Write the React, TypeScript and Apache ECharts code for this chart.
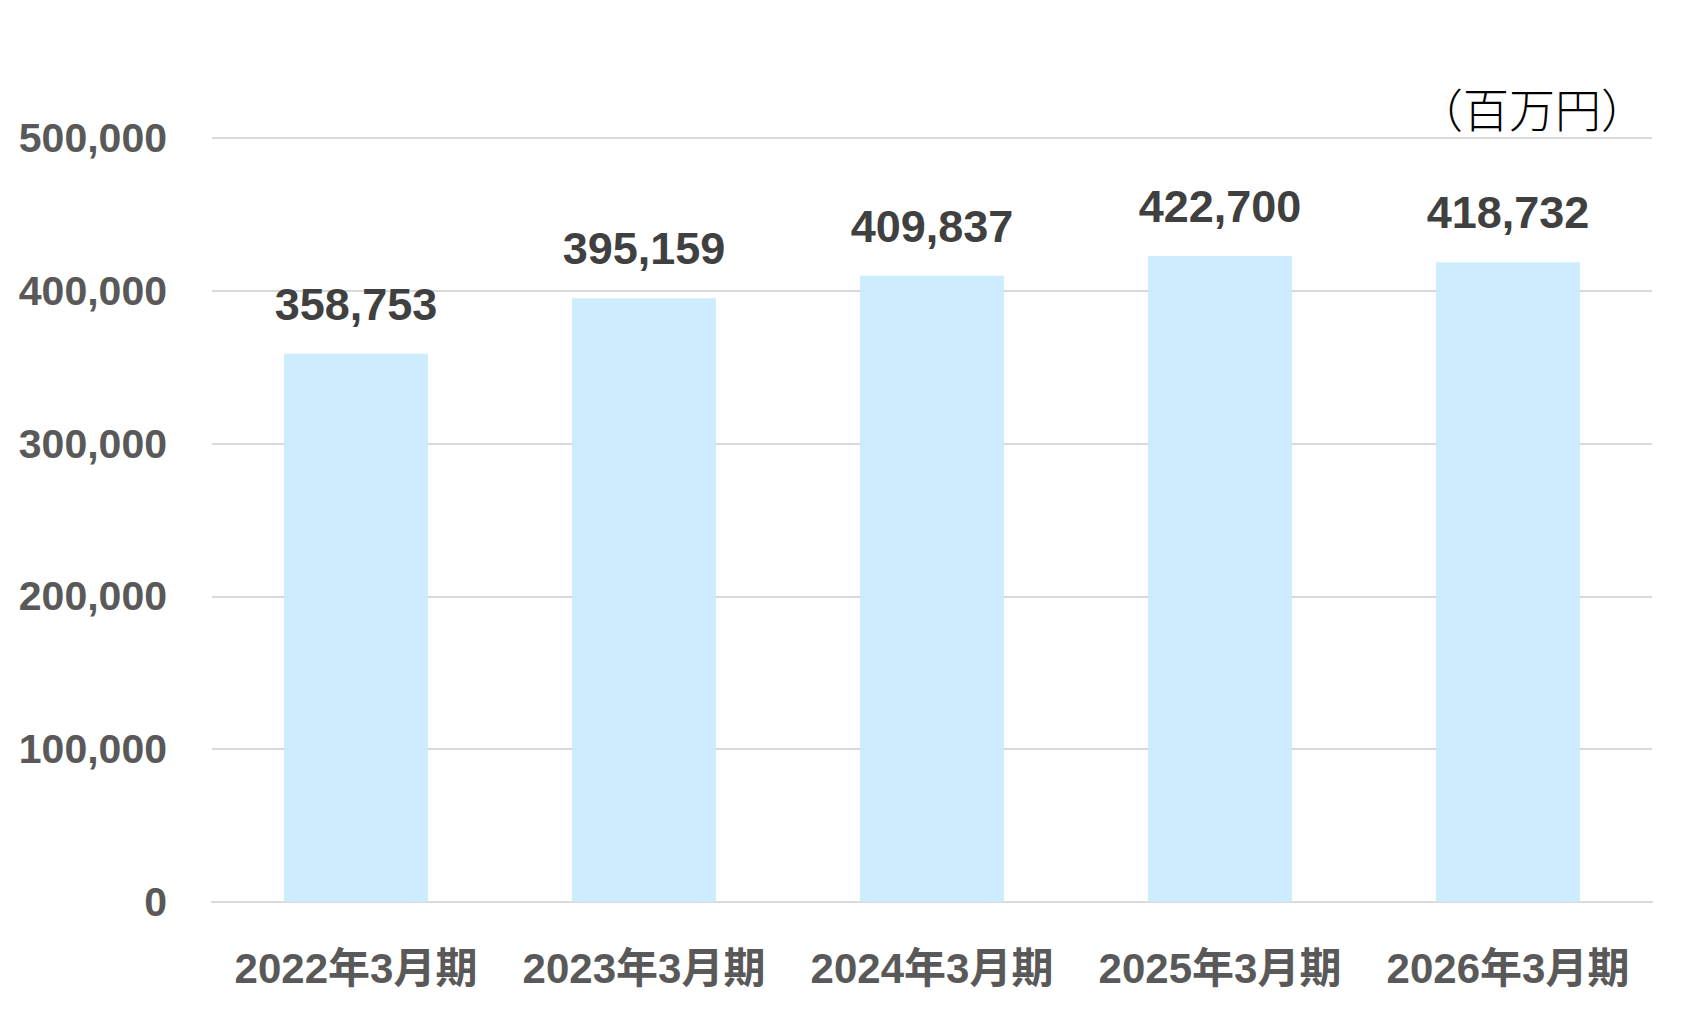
import React, { useEffect, useRef } from 'react';
import * as echarts from 'echarts';

const categories = ['2022年3月期', '2023年3月期', '2024年3月期', '2025年3月期', '2026年3月期'];
const salesValues = [358753, 395159, 409837, 422700, 418732];
const unitLabel = '（百万円）';

const LATIN = '"Liberation Sans", Arial, "Noto Sans CJK JP", sans-serif';

const fmt = (v: number) => v.toLocaleString('en-US');

const App: React.FC = () => {
    const chartRef = useRef<HTMLDivElement>(null);

    useEffect(() => {
        document.body.style.margin = '0';
        if (!chartRef.current) return;
        const chart = echarts.init(chartRef.current, undefined, { renderer: 'svg' });

        const option: echarts.EChartsOption = {
            animation: false,
            backgroundColor: '#ffffff',
            grid: { left: 212, right: 53, top: 138, bottom: 129, containLabel: false },
            graphic: [
                {
                    type: 'text',
                    x: 1647,
                    y: 107,
                    style: {
                        text: unitLabel,
                        fontSize: 46,
                        fontFamily: '"Noto Sans CJK JP", sans-serif',
                        fontWeight: 300,
                        fill: '#000000',
                        textAlign: 'right',
                        textVerticalAlign: 'middle',
                    },
                },
            ],
            xAxis: {
                type: 'category',
                data: categories,
                axisLine: { show: true, lineStyle: { color: '#d9d9d9', width: 2 } },
                axisTick: { show: false },
                axisLabel: {
                    interval: 0,
                    margin: 45,
                    fontSize: 42,
                    fontWeight: 'bold',
                    color: '#595959',
                    fontFamily: LATIN,
                },
            },
            yAxis: {
                type: 'value',
                min: 0,
                max: 500000,
                interval: 100000,
                axisLine: { show: false },
                axisTick: { show: false },
                splitLine: { lineStyle: { color: '#d9d9d9', width: 2 } },
                axisLabel: {
                    margin: 45,
                    fontSize: 41,
                    fontWeight: 'bold',
                    color: '#595959',
                    fontFamily: LATIN,
                    formatter: (v: number) => fmt(v),
                },
            },
            series: [
                {
                    type: 'bar',
                    data: salesValues,
                    barWidth: '50%',
                    itemStyle: { color: '#cdecfd' },
                    label: {
                        show: true,
                        position: 'top',
                        distance: 27,
                        fontSize: 45,
                        fontWeight: 'bold',
                        color: '#404040',
                        fontFamily: LATIN,
                        formatter: (p: any) => fmt(p.value),
                    },
                },
            ],
        };

        chart.setOption(option);
        return () => chart.dispose();
    }, []);

    return <div ref={chartRef} style={{ width: 1705, height: 1031 }} />;
};

export default App;
